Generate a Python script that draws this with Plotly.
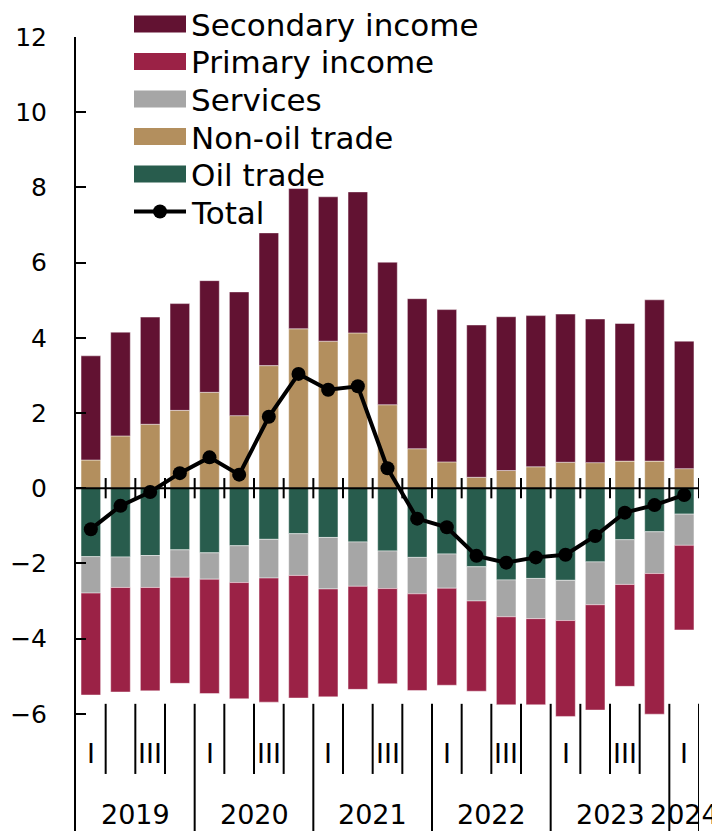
import plotly.graph_objects as go

# ---------------- data ----------------
years = ["2019", "2020", "2021", "2022", "2023", "2024"]
quarters = ["I", "II", "III", "IV"]
quarter_labels = ["I", "", "III", ""]
categories = [f"{y}-{q}" for y in years for q in quarters][:21]

oil_trade = [-1.82, -1.83, -1.79, -1.64, -1.72, -1.53, -1.36, -1.21, -1.31, -1.43, -1.67,
             -1.84, -1.75, -2.09, -2.44, -2.40, -2.45, -1.96, -1.37, -1.16, -0.69]
non_oil_trade = [0.75, 1.39, 1.70, 2.07, 2.55, 1.93, 3.26, 4.24, 3.91, 4.13, 2.22,
                 1.05, 0.70, 0.29, 0.47, 0.57, 0.69, 0.68, 0.72, 0.72, 0.52]
services = [-0.97, -0.81, -0.85, -0.73, -0.70, -0.98, -1.03, -1.11, -1.37, -1.18, -1.00,
            -0.97, -0.91, -0.91, -0.98, -1.07, -1.07, -1.14, -1.19, -1.11, -0.83]
primary_income = [-2.71, -2.78, -2.75, -2.82, -3.04, -3.09, -3.30, -3.26, -2.87, -2.74, -2.53,
                  -2.57, -2.58, -2.40, -2.34, -2.29, -2.55, -2.80, -2.71, -3.74, -2.25]
secondary_income = [2.77, 2.76, 2.85, 2.84, 2.97, 3.29, 3.53, 3.73, 3.84, 3.75, 3.79,
                    3.99, 4.05, 4.05, 4.09, 4.02, 3.94, 3.82, 3.66, 4.29, 3.39]
total = [-1.09, -0.47, -0.10, 0.40, 0.82, 0.36, 1.90, 3.04, 2.62, 2.71, 0.53,
         -0.81, -1.04, -1.80, -1.98, -1.84, -1.77, -1.27, -0.65, -0.45, -0.18]

y_ticks = [-6, -4, -2, 0, 2, 4, 6, 8, 10, 12]

# ---------------- styles ----------------
C_SEC = "#621232"
C_PRI = "#9B2246"
C_SRV = "#A6A6A6"
C_NON = "#B38F5E"
C_OIL = "#285C4D"
FONT = "DejaVu Sans"

W, H = 720, 831
OFF = 8  # page body offset
ML, MR, MT, MB = 68, 29, 29, 0
Y_MIN, Y_MAX = -9.33, 12

series = [
    ("Oil trade", oil_trade, C_OIL),
    ("Non-oil trade", non_oil_trade, C_NON),
    ("Services", services, C_SRV),
    ("Primary income", primary_income, C_PRI),
    ("Secondary income", secondary_income, C_SEC),
]

fig = go.Figure()
for name, vals, col in series:
    fig.add_trace(go.Bar(
        x=categories, y=vals, name=name,
        marker=dict(color=col, line=dict(color="rgba(255,255,255,0.55)", width=0.8)),
        showlegend=False,
    ))
fig.add_trace(go.Scatter(
    x=categories, y=total, name="Total", mode="lines+markers",
    line=dict(color="black", width=4),
    marker=dict(color="black", size=14),
    showlegend=False,
))

n = len(categories)
shapes = []
# zero line and crossing ticks
shapes.append(dict(type="line", xref="x", yref="y", x0=-0.5, x1=n - 0.5, y0=0, y1=0,
                   line=dict(color="black", width=2), layer="above"))
for k in range(1, n + 1):
    shapes.append(dict(type="line", xref="x", yref="y", x0=k - 0.5, x1=k - 0.5,
                       y0=-0.27, y1=0.27, line=dict(color="black", width=2), layer="above"))

# category axis dividers
q_top, q_bot = -5.735, -7.60
for k in range(1, n + 1):
    x = k - 0.5
    is_year = (k % 4 == 0) or k == n
    shapes.append(dict(type="line", xref="x", yref="y", x0=x, x1=x,
                       y0=q_top, y1=(Y_MIN if is_year else q_bot),
                       line=dict(color="black", width=2), layer="above"))

annotations = []
for i, c in enumerate(categories):
    ql = quarter_labels[i % 4]
    if ql:
        annotations.append(dict(x=i, y=-7.06, xref="x", yref="y", text=ql, showarrow=False,
                                font=dict(family=FONT, size=27, color="black"),
                                xanchor="center", yanchor="middle"))
for j, yr in enumerate(years):
    start = j * 4
    end = min(start + 3, n - 1)
    annotations.append(dict(x=(start + end) / 2, y=-8.68, xref="x", yref="y", text=yr,
                            showarrow=False, font=dict(family=FONT, size=27, color="black"),
                            xanchor="center", yanchor="middle"))

# custom legend (screen pixel -> paper)
pw = W - ML - MR
ph = H - MT - MB


def px(xs):
    return (xs - OFF - ML) / pw


def py(ys):
    return (H - MB - (ys - OFF)) / ph


legend_items = [
    ("Secondary income", C_SEC),
    ("Primary income", C_PRI),
    ("Services", C_SRV),
    ("Non-oil trade", C_NON),
    ("Oil trade", C_OIL),
    ("Total", None),
]
row0, dy = 24, 37.5
for i, (lab, col) in enumerate(legend_items):
    yc = row0 + i * dy
    if col:
        shapes.append(dict(type="rect", xref="paper", yref="paper",
                           x0=px(134), x1=px(186), y0=py(yc + 8.5), y1=py(yc - 8.5),
                           fillcolor=col, line=dict(width=0)))
    else:
        shapes.append(dict(type="line", xref="paper", yref="paper",
                           x0=px(134), x1=px(186), y0=py(yc), y1=py(yc),
                           line=dict(color="black", width=4)))
        shapes.append(dict(type="circle", xref="paper", yref="paper",
                           x0=px(153), x1=px(167), y0=py(yc + 7), y1=py(yc - 7),
                           fillcolor="black", line=dict(width=0)))
    annotations.append(dict(x=px(189), y=py(yc + 1), xref="paper", yref="paper", text=lab,
                            showarrow=False, font=dict(family=FONT, size=31, color="black"),
                            xanchor="left", yanchor="middle"))

fig.update_layout(
    width=W, height=H,
    margin=dict(l=ML, r=MR, t=MT, b=MB, pad=0),
    paper_bgcolor="white", plot_bgcolor="white",
    barmode="relative", bargap=0.34,
    font=dict(family=FONT, color="black"),
    shapes=shapes, annotations=annotations,
    showlegend=False,
)
fig.update_xaxes(type="category", range=[-0.5, n - 0.5], showticklabels=False,
                 showline=False, showgrid=False, zeroline=False, ticks="")
fig.update_yaxes(range=[Y_MIN, Y_MAX], tickvals=y_ticks, ticks="inside", ticklen=10,
                 tickwidth=2, tickcolor="black", showline=True, linecolor="black", linewidth=2,
                 showgrid=False, zeroline=False, ticklabelstandoff=22,
                 tickfont=dict(family=FONT, size=25, color="black"))

fig.write_html("out.html")
